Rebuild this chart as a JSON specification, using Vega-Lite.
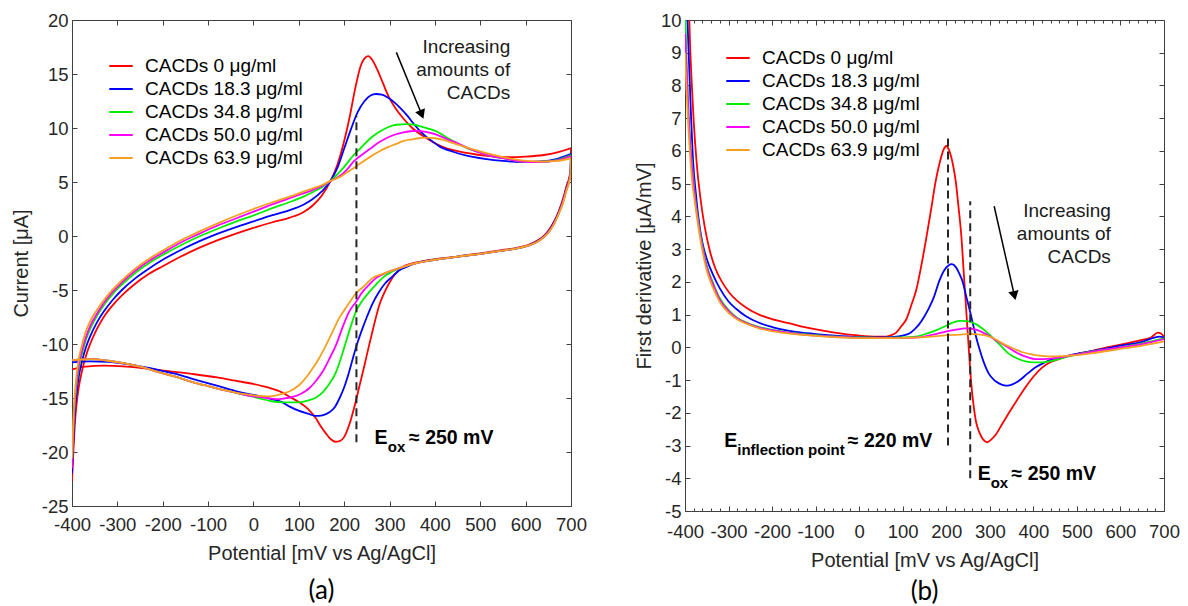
{
"$schema": "https://vega.github.io/schema/vega-lite/v6.json",
"background": "white",
"padding": {"left": 10, "top": 10, "right": 2, "bottom": 1},
"spacing": 46,
"config": {
  "font": "Liberation Sans",
  "view": {"stroke": "#404040", "strokeWidth": 1},
  "axis": {"domain": false, "grid": false, "labelOverlap": false, "labelFlush": false, "tickColor": "#404040", "tickSize": -5, "labelColor": "#262626", "labelFontSize": 18.5, "labelPadding": 9, "titleFontSize": 20, "titleFontWeight": "normal", "titleColor": "#262626", "titlePadding": 10},
  "legend": {"labelFontSize": 19, "labelColor": "#000", "labelLimit": 400, "symbolType": "stroke", "symbolStrokeWidth": 2, "symbolSize": 550, "rowPadding": 0, "labelOffset": 11, "padding": 0},
  "text": {"font": "Liberation Sans"}
},
"datasets": {
"cv": [
{"c":"0","b":"f","E":-400,"I":-22.7},{"c":"0","b":"f","E":-397,"I":-20},{"c":"0","b":"f","E":-394,"I":-17.6},{"c":"0","b":"f","E":-390,"I":-15.6},{"c":"0","b":"f","E":-385,"I":-14},{"c":"0","b":"f","E":-378,"I":-12.5},{"c":"0","b":"f","E":-370,"I":-11.2},{"c":"0","b":"f","E":-360,"I":-10},{"c":"0","b":"f","E":-345,"I":-8.6},{"c":"0","b":"f","E":-330,"I":-7.5},{"c":"0","b":"f","E":-310,"I":-6.4},{"c":"0","b":"f","E":-290,"I":-5.5},{"c":"0","b":"f","E":-260,"I":-4.4},{"c":"0","b":"f","E":-230,"I":-3.5},{"c":"0","b":"f","E":-200,"I":-2.8},{"c":"0","b":"f","E":-160,"I":-1.9},{"c":"0","b":"f","E":-120,"I":-1.1},{"c":"0","b":"f","E":-80,"I":-0.4},{"c":"0","b":"f","E":-40,"I":0.2},{"c":"0","b":"f","E":0,"I":0.75},{"c":"0","b":"f","E":40,"I":1.25},{"c":"0","b":"f","E":80,"I":1.7},{"c":"0","b":"f","E":110,"I":2.2},{"c":"0","b":"f","E":130,"I":2.8},{"c":"0","b":"f","E":150,"I":3.7},{"c":"0","b":"f","E":170,"I":5.1},{"c":"0","b":"f","E":185,"I":6.6},{"c":"0","b":"f","E":200,"I":8.8},{"c":"0","b":"f","E":212,"I":11},{"c":"0","b":"f","E":224,"I":13.6},{"c":"0","b":"f","E":236,"I":15.7},{"c":"0","b":"f","E":246,"I":16.5},{"c":"0","b":"f","E":253,"I":16.65},{"c":"0","b":"f","E":262,"I":16.3},{"c":"0","b":"f","E":273,"I":15.4},{"c":"0","b":"f","E":285,"I":14.2},{"c":"0","b":"f","E":297,"I":13},{"c":"0","b":"f","E":312,"I":11.9},{"c":"0","b":"f","E":330,"I":10.9},{"c":"0","b":"f","E":350,"I":10},{"c":"0","b":"f","E":380,"I":9.1},{"c":"0","b":"f","E":420,"I":8.2},{"c":"0","b":"f","E":470,"I":7.7},{"c":"0","b":"f","E":520,"I":7.4},{"c":"0","b":"f","E":560,"I":7.3},{"c":"0","b":"f","E":600,"I":7.35},{"c":"0","b":"f","E":640,"I":7.5},{"c":"0","b":"f","E":670,"I":7.75},{"c":"0","b":"f","E":700,"I":8.15},
{"c":"0","b":"r","E":700,"I":8.15},{"c":"0","b":"r","E":699,"I":6.2},{"c":"0","b":"r","E":696,"I":5.4},{"c":"0","b":"r","E":690,"I":4.6},{"c":"0","b":"r","E":682,"I":3.4},{"c":"0","b":"r","E":672,"I":2.2},{"c":"0","b":"r","E":662,"I":1.3},{"c":"0","b":"r","E":652,"I":0.6},{"c":"0","b":"r","E":640,"I":0},{"c":"0","b":"r","E":625,"I":-0.45},{"c":"0","b":"r","E":605,"I":-0.85},{"c":"0","b":"r","E":580,"I":-1.1},{"c":"0","b":"r","E":540,"I":-1.35},{"c":"0","b":"r","E":500,"I":-1.6},{"c":"0","b":"r","E":450,"I":-1.9},{"c":"0","b":"r","E":400,"I":-2.15},{"c":"0","b":"r","E":360,"I":-2.45},{"c":"0","b":"r","E":330,"I":-2.85},{"c":"0","b":"r","E":315,"I":-3.4},{"c":"0","b":"r","E":300,"I":-4.3},{"c":"0","b":"r","E":288,"I":-5.3},{"c":"0","b":"r","E":277,"I":-6.45},{"c":"0","b":"r","E":266,"I":-8.2},{"c":"0","b":"r","E":255,"I":-10.1},{"c":"0","b":"r","E":244,"I":-12.1},{"c":"0","b":"r","E":233,"I":-14},{"c":"0","b":"r","E":222,"I":-15.9},{"c":"0","b":"r","E":211,"I":-17.5},{"c":"0","b":"r","E":200,"I":-18.6},{"c":"0","b":"r","E":190,"I":-19},{"c":"0","b":"r","E":180,"I":-19.05},{"c":"0","b":"r","E":170,"I":-18.8},{"c":"0","b":"r","E":160,"I":-18.3},{"c":"0","b":"r","E":148,"I":-17.6},{"c":"0","b":"r","E":138,"I":-16.9},{"c":"0","b":"r","E":120,"I":-16},{"c":"0","b":"r","E":101,"I":-15.4},{"c":"0","b":"r","E":80,"I":-14.9},{"c":"0","b":"r","E":64,"I":-14.5},{"c":"0","b":"r","E":30,"I":-14},{"c":"0","b":"r","E":0,"I":-13.7},{"c":"0","b":"r","E":-40,"I":-13.4},{"c":"0","b":"r","E":-80,"I":-13.1},{"c":"0","b":"r","E":-130,"I":-12.8},{"c":"0","b":"r","E":-180,"I":-12.55},{"c":"0","b":"r","E":-230,"I":-12.3},{"c":"0","b":"r","E":-280,"I":-12.1},{"c":"0","b":"r","E":-330,"I":-12},{"c":"0","b":"r","E":-370,"I":-12.1},{"c":"0","b":"r","E":-400,"I":-12.35},
{"c":"18.3","b":"f","E":-400,"I":-22},{"c":"18.3","b":"f","E":-397,"I":-19},{"c":"18.3","b":"f","E":-394,"I":-16.5},{"c":"18.3","b":"f","E":-390,"I":-14.6},{"c":"18.3","b":"f","E":-385,"I":-13},{"c":"18.3","b":"f","E":-378,"I":-11.6},{"c":"18.3","b":"f","E":-370,"I":-10.4},{"c":"18.3","b":"f","E":-360,"I":-9.3},{"c":"18.3","b":"f","E":-345,"I":-8},{"c":"18.3","b":"f","E":-330,"I":-7},{"c":"18.3","b":"f","E":-310,"I":-5.9},{"c":"18.3","b":"f","E":-290,"I":-5},{"c":"18.3","b":"f","E":-260,"I":-3.9},{"c":"18.3","b":"f","E":-230,"I":-3},{"c":"18.3","b":"f","E":-200,"I":-2.2},{"c":"18.3","b":"f","E":-160,"I":-1.3},{"c":"18.3","b":"f","E":-120,"I":-0.5},{"c":"18.3","b":"f","E":-80,"I":0.2},{"c":"18.3","b":"f","E":-40,"I":0.8},{"c":"18.3","b":"f","E":0,"I":1.35},{"c":"18.3","b":"f","E":40,"I":1.9},{"c":"18.3","b":"f","E":80,"I":2.4},{"c":"18.3","b":"f","E":110,"I":2.9},{"c":"18.3","b":"f","E":130,"I":3.4},{"c":"18.3","b":"f","E":150,"I":4.1},{"c":"18.3","b":"f","E":170,"I":5.1},{"c":"18.3","b":"f","E":185,"I":6.3},{"c":"18.3","b":"f","E":200,"I":8.1},{"c":"18.3","b":"f","E":215,"I":9.9},{"c":"18.3","b":"f","E":230,"I":11.5},{"c":"18.3","b":"f","E":245,"I":12.5},{"c":"18.3","b":"f","E":258,"I":13},{"c":"18.3","b":"f","E":270,"I":13.15},{"c":"18.3","b":"f","E":283,"I":13.1},{"c":"18.3","b":"f","E":297,"I":12.8},{"c":"18.3","b":"f","E":310,"I":12.4},{"c":"18.3","b":"f","E":325,"I":11.8},{"c":"18.3","b":"f","E":340,"I":11.1},{"c":"18.3","b":"f","E":355,"I":10.3},{"c":"18.3","b":"f","E":370,"I":9.6},{"c":"18.3","b":"f","E":390,"I":8.9},{"c":"18.3","b":"f","E":410,"I":8.3},{"c":"18.3","b":"f","E":440,"I":7.8},{"c":"18.3","b":"f","E":470,"I":7.45},{"c":"18.3","b":"f","E":510,"I":7.15},{"c":"18.3","b":"f","E":550,"I":6.95},{"c":"18.3","b":"f","E":590,"I":6.85},{"c":"18.3","b":"f","E":630,"I":6.9},{"c":"18.3","b":"f","E":670,"I":7.15},{"c":"18.3","b":"f","E":700,"I":7.6},
{"c":"18.3","b":"r","E":700,"I":7.6},{"c":"18.3","b":"r","E":699,"I":6},{"c":"18.3","b":"r","E":696,"I":5.2},{"c":"18.3","b":"r","E":690,"I":4.4},{"c":"18.3","b":"r","E":682,"I":3.2},{"c":"18.3","b":"r","E":672,"I":2.1},{"c":"18.3","b":"r","E":662,"I":1.2},{"c":"18.3","b":"r","E":652,"I":0.5},{"c":"18.3","b":"r","E":640,"I":-0.05},{"c":"18.3","b":"r","E":625,"I":-0.5},{"c":"18.3","b":"r","E":605,"I":-0.9},{"c":"18.3","b":"r","E":580,"I":-1.15},{"c":"18.3","b":"r","E":540,"I":-1.4},{"c":"18.3","b":"r","E":500,"I":-1.65},{"c":"18.3","b":"r","E":450,"I":-1.9},{"c":"18.3","b":"r","E":400,"I":-2.2},{"c":"18.3","b":"r","E":360,"I":-2.5},{"c":"18.3","b":"r","E":335,"I":-2.9},{"c":"18.3","b":"r","E":321,"I":-3.2},{"c":"18.3","b":"r","E":305,"I":-3.8},{"c":"18.3","b":"r","E":290,"I":-4.4},{"c":"18.3","b":"r","E":275,"I":-5.3},{"c":"18.3","b":"r","E":262,"I":-6.3},{"c":"18.3","b":"r","E":250,"I":-7.5},{"c":"18.3","b":"r","E":240,"I":-8.6},{"c":"18.3","b":"r","E":230,"I":-9.8},{"c":"18.3","b":"r","E":220,"I":-11.2},{"c":"18.3","b":"r","E":210,"I":-12.7},{"c":"18.3","b":"r","E":200,"I":-14},{"c":"18.3","b":"r","E":190,"I":-15},{"c":"18.3","b":"r","E":180,"I":-15.8},{"c":"18.3","b":"r","E":168,"I":-16.3},{"c":"18.3","b":"r","E":152,"I":-16.6},{"c":"18.3","b":"r","E":136,"I":-16.65},{"c":"18.3","b":"r","E":120,"I":-16.45},{"c":"18.3","b":"r","E":101,"I":-16.2},{"c":"18.3","b":"r","E":80,"I":-15.8},{"c":"18.3","b":"r","E":64,"I":-15.4},{"c":"18.3","b":"r","E":40,"I":-15.1},{"c":"18.3","b":"r","E":11,"I":-14.8},{"c":"18.3","b":"r","E":-26,"I":-14.5},{"c":"18.3","b":"r","E":-60,"I":-14.1},{"c":"18.3","b":"r","E":-99,"I":-13.65},{"c":"18.3","b":"r","E":-140,"I":-13.15},{"c":"18.3","b":"r","E":-173,"I":-12.75},{"c":"18.3","b":"r","E":-210,"I":-12.4},{"c":"18.3","b":"r","E":-246,"I":-12.1},{"c":"18.3","b":"r","E":-280,"I":-11.85},{"c":"18.3","b":"r","E":-319,"I":-11.65},{"c":"18.3","b":"r","E":-360,"I":-11.6},{"c":"18.3","b":"r","E":-400,"I":-11.7},
{"c":"34.8","b":"f","E":-400,"I":-21.2},{"c":"34.8","b":"f","E":-397,"I":-18},{"c":"34.8","b":"f","E":-394,"I":-15.6},{"c":"34.8","b":"f","E":-390,"I":-13.8},{"c":"34.8","b":"f","E":-385,"I":-12.2},{"c":"34.8","b":"f","E":-378,"I":-10.9},{"c":"34.8","b":"f","E":-370,"I":-9.7},{"c":"34.8","b":"f","E":-360,"I":-8.6},{"c":"34.8","b":"f","E":-345,"I":-7.4},{"c":"34.8","b":"f","E":-330,"I":-6.4},{"c":"34.8","b":"f","E":-310,"I":-5.35},{"c":"34.8","b":"f","E":-290,"I":-4.5},{"c":"34.8","b":"f","E":-260,"I":-3.4},{"c":"34.8","b":"f","E":-230,"I":-2.5},{"c":"34.8","b":"f","E":-200,"I":-1.75},{"c":"34.8","b":"f","E":-160,"I":-0.85},{"c":"34.8","b":"f","E":-120,"I":-0.05},{"c":"34.8","b":"f","E":-80,"I":0.65},{"c":"34.8","b":"f","E":-40,"I":1.3},{"c":"34.8","b":"f","E":0,"I":1.9},{"c":"34.8","b":"f","E":40,"I":2.55},{"c":"34.8","b":"f","E":80,"I":3.15},{"c":"34.8","b":"f","E":110,"I":3.65},{"c":"34.8","b":"f","E":130,"I":4.05},{"c":"34.8","b":"f","E":150,"I":4.5},{"c":"34.8","b":"f","E":170,"I":5.1},{"c":"34.8","b":"f","E":185,"I":5.7},{"c":"34.8","b":"f","E":200,"I":6.4},{"c":"34.8","b":"f","E":221,"I":7.5},{"c":"34.8","b":"f","E":240,"I":8.3},{"c":"34.8","b":"f","E":258,"I":9.05},{"c":"34.8","b":"f","E":276,"I":9.6},{"c":"34.8","b":"f","E":295,"I":10.05},{"c":"34.8","b":"f","E":315,"I":10.3},{"c":"34.8","b":"f","E":338,"I":10.35},{"c":"34.8","b":"f","E":355,"I":10.3},{"c":"34.8","b":"f","E":368,"I":10.15},{"c":"34.8","b":"f","E":385,"I":9.95},{"c":"34.8","b":"f","E":405,"I":9.65},{"c":"34.8","b":"f","E":425,"I":9.15},{"c":"34.8","b":"f","E":449,"I":8.6},{"c":"34.8","b":"f","E":470,"I":8.15},{"c":"34.8","b":"f","E":493,"I":7.8},{"c":"34.8","b":"f","E":520,"I":7.45},{"c":"34.8","b":"f","E":550,"I":7.2},{"c":"34.8","b":"f","E":590,"I":6.9},{"c":"34.8","b":"f","E":630,"I":6.85},{"c":"34.8","b":"f","E":670,"I":7.05},{"c":"34.8","b":"f","E":700,"I":7.5},
{"c":"34.8","b":"r","E":700,"I":7.5},{"c":"34.8","b":"r","E":699,"I":5.9},{"c":"34.8","b":"r","E":696,"I":5.1},{"c":"34.8","b":"r","E":690,"I":4.3},{"c":"34.8","b":"r","E":682,"I":3.1},{"c":"34.8","b":"r","E":672,"I":2},{"c":"34.8","b":"r","E":662,"I":1.1},{"c":"34.8","b":"r","E":652,"I":0.45},{"c":"34.8","b":"r","E":640,"I":-0.1},{"c":"34.8","b":"r","E":625,"I":-0.55},{"c":"34.8","b":"r","E":605,"I":-0.9},{"c":"34.8","b":"r","E":580,"I":-1.15},{"c":"34.8","b":"r","E":540,"I":-1.4},{"c":"34.8","b":"r","E":500,"I":-1.65},{"c":"34.8","b":"r","E":450,"I":-1.9},{"c":"34.8","b":"r","E":400,"I":-2.2},{"c":"34.8","b":"r","E":360,"I":-2.5},{"c":"34.8","b":"r","E":328,"I":-2.9},{"c":"34.8","b":"r","E":305,"I":-3.3},{"c":"34.8","b":"r","E":284,"I":-3.9},{"c":"34.8","b":"r","E":270,"I":-4.5},{"c":"34.8","b":"r","E":255,"I":-5.2},{"c":"34.8","b":"r","E":240,"I":-6},{"c":"34.8","b":"r","E":226,"I":-7},{"c":"34.8","b":"r","E":215,"I":-8.3},{"c":"34.8","b":"r","E":204,"I":-9.8},{"c":"34.8","b":"r","E":193,"I":-11.3},{"c":"34.8","b":"r","E":182,"I":-12.6},{"c":"34.8","b":"r","E":167,"I":-13.7},{"c":"34.8","b":"r","E":152,"I":-14.5},{"c":"34.8","b":"r","E":138,"I":-14.95},{"c":"34.8","b":"r","E":123,"I":-15.2},{"c":"34.8","b":"r","E":108,"I":-15.35},{"c":"34.8","b":"r","E":94,"I":-15.4},{"c":"34.8","b":"r","E":80,"I":-15.4},{"c":"34.8","b":"r","E":64,"I":-15.4},{"c":"34.8","b":"r","E":40,"I":-15.3},{"c":"34.8","b":"r","E":11,"I":-15},{"c":"34.8","b":"r","E":-20,"I":-14.7},{"c":"34.8","b":"r","E":-62,"I":-14.3},{"c":"34.8","b":"r","E":-100,"I":-13.9},{"c":"34.8","b":"r","E":-136,"I":-13.5},{"c":"34.8","b":"r","E":-170,"I":-13.05},{"c":"34.8","b":"r","E":-209,"I":-12.6},{"c":"34.8","b":"r","E":-245,"I":-12.15},{"c":"34.8","b":"r","E":-283,"I":-11.8},{"c":"34.8","b":"r","E":-320,"I":-11.55},{"c":"34.8","b":"r","E":-356,"I":-11.4},{"c":"34.8","b":"r","E":-400,"I":-11.5},
{"c":"50.0","b":"f","E":-400,"I":-21.5},{"c":"50.0","b":"f","E":-397,"I":-17.6},{"c":"50.0","b":"f","E":-394,"I":-15.3},{"c":"50.0","b":"f","E":-390,"I":-13.5},{"c":"50.0","b":"f","E":-385,"I":-11.9},{"c":"50.0","b":"f","E":-378,"I":-10.6},{"c":"50.0","b":"f","E":-370,"I":-9.45},{"c":"50.0","b":"f","E":-360,"I":-8.35},{"c":"50.0","b":"f","E":-345,"I":-7.2},{"c":"50.0","b":"f","E":-330,"I":-6.2},{"c":"50.0","b":"f","E":-310,"I":-5.15},{"c":"50.0","b":"f","E":-290,"I":-4.3},{"c":"50.0","b":"f","E":-260,"I":-3.2},{"c":"50.0","b":"f","E":-230,"I":-2.3},{"c":"50.0","b":"f","E":-200,"I":-1.55},{"c":"50.0","b":"f","E":-160,"I":-0.6},{"c":"50.0","b":"f","E":-120,"I":0.2},{"c":"50.0","b":"f","E":-80,"I":0.95},{"c":"50.0","b":"f","E":-40,"I":1.6},{"c":"50.0","b":"f","E":0,"I":2.25},{"c":"50.0","b":"f","E":40,"I":2.9},{"c":"50.0","b":"f","E":80,"I":3.5},{"c":"50.0","b":"f","E":110,"I":3.95},{"c":"50.0","b":"f","E":130,"I":4.25},{"c":"50.0","b":"f","E":150,"I":4.6},{"c":"50.0","b":"f","E":170,"I":5.1},{"c":"50.0","b":"f","E":190,"I":5.55},{"c":"50.0","b":"f","E":205,"I":6.1},{"c":"50.0","b":"f","E":221,"I":6.9},{"c":"50.0","b":"f","E":240,"I":7.55},{"c":"50.0","b":"f","E":258,"I":8.1},{"c":"50.0","b":"f","E":276,"I":8.65},{"c":"50.0","b":"f","E":295,"I":9.1},{"c":"50.0","b":"f","E":313,"I":9.4},{"c":"50.0","b":"f","E":331,"I":9.6},{"c":"50.0","b":"f","E":345,"I":9.7},{"c":"50.0","b":"f","E":361,"I":9.74},{"c":"50.0","b":"f","E":380,"I":9.65},{"c":"50.0","b":"f","E":405,"I":9.37},{"c":"50.0","b":"f","E":425,"I":9},{"c":"50.0","b":"f","E":449,"I":8.6},{"c":"50.0","b":"f","E":470,"I":8.2},{"c":"50.0","b":"f","E":493,"I":7.8},{"c":"50.0","b":"f","E":520,"I":7.45},{"c":"50.0","b":"f","E":550,"I":7.2},{"c":"50.0","b":"f","E":590,"I":6.9},{"c":"50.0","b":"f","E":630,"I":6.85},{"c":"50.0","b":"f","E":670,"I":7},{"c":"50.0","b":"f","E":700,"I":7.4},
{"c":"50.0","b":"r","E":700,"I":7.4},{"c":"50.0","b":"r","E":699,"I":5.9},{"c":"50.0","b":"r","E":696,"I":5.1},{"c":"50.0","b":"r","E":690,"I":4.3},{"c":"50.0","b":"r","E":682,"I":3.1},{"c":"50.0","b":"r","E":672,"I":2},{"c":"50.0","b":"r","E":662,"I":1.1},{"c":"50.0","b":"r","E":652,"I":0.45},{"c":"50.0","b":"r","E":640,"I":-0.1},{"c":"50.0","b":"r","E":625,"I":-0.55},{"c":"50.0","b":"r","E":605,"I":-0.9},{"c":"50.0","b":"r","E":580,"I":-1.15},{"c":"50.0","b":"r","E":540,"I":-1.4},{"c":"50.0","b":"r","E":500,"I":-1.65},{"c":"50.0","b":"r","E":450,"I":-1.9},{"c":"50.0","b":"r","E":400,"I":-2.2},{"c":"50.0","b":"r","E":360,"I":-2.5},{"c":"50.0","b":"r","E":330,"I":-2.85},{"c":"50.0","b":"r","E":305,"I":-3.2},{"c":"50.0","b":"r","E":285,"I":-3.55},{"c":"50.0","b":"r","E":270,"I":-3.9},{"c":"50.0","b":"r","E":255,"I":-4.5},{"c":"50.0","b":"r","E":240,"I":-5.2},{"c":"50.0","b":"r","E":226,"I":-6.1},{"c":"50.0","b":"r","E":211,"I":-7},{"c":"50.0","b":"r","E":196,"I":-8.5},{"c":"50.0","b":"r","E":182,"I":-10.1},{"c":"50.0","b":"r","E":167,"I":-11.4},{"c":"50.0","b":"r","E":152,"I":-12.6},{"c":"50.0","b":"r","E":138,"I":-13.4},{"c":"50.0","b":"r","E":123,"I":-14.1},{"c":"50.0","b":"r","E":105,"I":-14.6},{"c":"50.0","b":"r","E":86,"I":-14.9},{"c":"50.0","b":"r","E":66,"I":-15.05},{"c":"50.0","b":"r","E":49,"I":-15.1},{"c":"50.0","b":"r","E":30,"I":-15},{"c":"50.0","b":"r","E":13,"I":-14.9},{"c":"50.0","b":"r","E":-9,"I":-14.8},{"c":"50.0","b":"r","E":-40,"I":-14.5},{"c":"50.0","b":"r","E":-62,"I":-14.3},{"c":"50.0","b":"r","E":-100,"I":-13.9},{"c":"50.0","b":"r","E":-136,"I":-13.5},{"c":"50.0","b":"r","E":-170,"I":-13.05},{"c":"50.0","b":"r","E":-209,"I":-12.6},{"c":"50.0","b":"r","E":-245,"I":-12.15},{"c":"50.0","b":"r","E":-283,"I":-11.8},{"c":"50.0","b":"r","E":-320,"I":-11.55},{"c":"50.0","b":"r","E":-356,"I":-11.4},{"c":"50.0","b":"r","E":-400,"I":-11.5},
{"c":"63.9","b":"f","E":-400,"I":-20.6},{"c":"63.9","b":"f","E":-397,"I":-17},{"c":"63.9","b":"f","E":-394,"I":-14.8},{"c":"63.9","b":"f","E":-390,"I":-12.9},{"c":"63.9","b":"f","E":-385,"I":-11.4},{"c":"63.9","b":"f","E":-378,"I":-10.1},{"c":"63.9","b":"f","E":-370,"I":-8.9},{"c":"63.9","b":"f","E":-360,"I":-7.9},{"c":"63.9","b":"f","E":-345,"I":-6.85},{"c":"63.9","b":"f","E":-330,"I":-5.95},{"c":"63.9","b":"f","E":-310,"I":-4.95},{"c":"63.9","b":"f","E":-290,"I":-4.1},{"c":"63.9","b":"f","E":-260,"I":-3},{"c":"63.9","b":"f","E":-230,"I":-2.1},{"c":"63.9","b":"f","E":-200,"I":-1.35},{"c":"63.9","b":"f","E":-160,"I":-0.4},{"c":"63.9","b":"f","E":-120,"I":0.4},{"c":"63.9","b":"f","E":-80,"I":1.15},{"c":"63.9","b":"f","E":-40,"I":1.85},{"c":"63.9","b":"f","E":0,"I":2.5},{"c":"63.9","b":"f","E":40,"I":3.1},{"c":"63.9","b":"f","E":80,"I":3.65},{"c":"63.9","b":"f","E":110,"I":4.1},{"c":"63.9","b":"f","E":130,"I":4.4},{"c":"63.9","b":"f","E":150,"I":4.7},{"c":"63.9","b":"f","E":170,"I":5.1},{"c":"63.9","b":"f","E":190,"I":5.45},{"c":"63.9","b":"f","E":205,"I":5.85},{"c":"63.9","b":"f","E":221,"I":6.3},{"c":"63.9","b":"f","E":240,"I":6.85},{"c":"63.9","b":"f","E":258,"I":7.35},{"c":"63.9","b":"f","E":276,"I":7.8},{"c":"63.9","b":"f","E":295,"I":8.2},{"c":"63.9","b":"f","E":313,"I":8.5},{"c":"63.9","b":"f","E":331,"I":8.8},{"c":"63.9","b":"f","E":350,"I":8.95},{"c":"63.9","b":"f","E":365,"I":9.05},{"c":"63.9","b":"f","E":379,"I":9.1},{"c":"63.9","b":"f","E":400,"I":9.05},{"c":"63.9","b":"f","E":419,"I":8.9},{"c":"63.9","b":"f","E":440,"I":8.6},{"c":"63.9","b":"f","E":463,"I":8.3},{"c":"63.9","b":"f","E":490,"I":7.95},{"c":"63.9","b":"f","E":520,"I":7.6},{"c":"63.9","b":"f","E":550,"I":7.3},{"c":"63.9","b":"f","E":590,"I":7},{"c":"63.9","b":"f","E":630,"I":6.9},{"c":"63.9","b":"f","E":670,"I":6.95},{"c":"63.9","b":"f","E":700,"I":7.2},
{"c":"63.9","b":"r","E":700,"I":7.2},{"c":"63.9","b":"r","E":699,"I":5.8},{"c":"63.9","b":"r","E":696,"I":5},{"c":"63.9","b":"r","E":690,"I":4.2},{"c":"63.9","b":"r","E":682,"I":3},{"c":"63.9","b":"r","E":672,"I":1.95},{"c":"63.9","b":"r","E":662,"I":1.05},{"c":"63.9","b":"r","E":652,"I":0.4},{"c":"63.9","b":"r","E":640,"I":-0.1},{"c":"63.9","b":"r","E":625,"I":-0.55},{"c":"63.9","b":"r","E":605,"I":-0.9},{"c":"63.9","b":"r","E":580,"I":-1.15},{"c":"63.9","b":"r","E":540,"I":-1.4},{"c":"63.9","b":"r","E":500,"I":-1.65},{"c":"63.9","b":"r","E":450,"I":-1.9},{"c":"63.9","b":"r","E":400,"I":-2.2},{"c":"63.9","b":"r","E":360,"I":-2.5},{"c":"63.9","b":"r","E":330,"I":-2.85},{"c":"63.9","b":"r","E":305,"I":-3.2},{"c":"63.9","b":"r","E":285,"I":-3.5},{"c":"63.9","b":"r","E":262,"I":-3.9},{"c":"63.9","b":"r","E":245,"I":-4.6},{"c":"63.9","b":"r","E":226,"I":-5.3},{"c":"63.9","b":"r","E":208,"I":-6.4},{"c":"63.9","b":"r","E":189,"I":-7.6},{"c":"63.9","b":"r","E":175,"I":-8.8},{"c":"63.9","b":"r","E":160,"I":-10.1},{"c":"63.9","b":"r","E":145,"I":-11.3},{"c":"63.9","b":"r","E":130,"I":-12.3},{"c":"63.9","b":"r","E":116,"I":-13.1},{"c":"63.9","b":"r","E":101,"I":-13.8},{"c":"63.9","b":"r","E":83,"I":-14.3},{"c":"63.9","b":"r","E":64,"I":-14.6},{"c":"63.9","b":"r","E":45,"I":-14.8},{"c":"63.9","b":"r","E":28,"I":-14.85},{"c":"63.9","b":"r","E":10,"I":-14.8},{"c":"63.9","b":"r","E":-9,"I":-14.7},{"c":"63.9","b":"r","E":-40,"I":-14.5},{"c":"63.9","b":"r","E":-62,"I":-14.3},{"c":"63.9","b":"r","E":-100,"I":-13.9},{"c":"63.9","b":"r","E":-136,"I":-13.5},{"c":"63.9","b":"r","E":-170,"I":-13.05},{"c":"63.9","b":"r","E":-209,"I":-12.6},{"c":"63.9","b":"r","E":-245,"I":-12.15},{"c":"63.9","b":"r","E":-283,"I":-11.8},{"c":"63.9","b":"r","E":-320,"I":-11.55},{"c":"63.9","b":"r","E":-356,"I":-11.4},{"c":"63.9","b":"r","E":-400,"I":-11.5}
],
"deriv": [
{"c":"0","E":-393,"D":11.5},{"c":"0","E":-389,"D":9.5},{"c":"0","E":-385,"D":8.2},{"c":"0","E":-380,"D":6.9},{"c":"0","E":-373,"D":5.6},{"c":"0","E":-365,"D":4.6},{"c":"0","E":-355,"D":3.7},{"c":"0","E":-343,"D":2.95},{"c":"0","E":-330,"D":2.4},{"c":"0","E":-315,"D":2},{"c":"0","E":-300,"D":1.7},{"c":"0","E":-280,"D":1.42},{"c":"0","E":-260,"D":1.22},{"c":"0","E":-230,"D":1},{"c":"0","E":-200,"D":0.86},{"c":"0","E":-160,"D":0.73},{"c":"0","E":-120,"D":0.6},{"c":"0","E":-80,"D":0.5},{"c":"0","E":-40,"D":0.42},{"c":"0","E":0,"D":0.36},{"c":"0","E":40,"D":0.33},{"c":"0","E":62,"D":0.33},{"c":"0","E":75,"D":0.38},{"c":"0","E":85,"D":0.45},{"c":"0","E":97,"D":0.65},{"c":"0","E":108,"D":0.85},{"c":"0","E":120,"D":1.3},{"c":"0","E":131,"D":1.75},{"c":"0","E":142,"D":2.45},{"c":"0","E":153,"D":3.25},{"c":"0","E":165,"D":4.2},{"c":"0","E":176,"D":5.1},{"c":"0","E":186,"D":5.7},{"c":"0","E":194,"D":6.05},{"c":"0","E":200,"D":6.15},{"c":"0","E":207,"D":6},{"c":"0","E":215,"D":5.6},{"c":"0","E":222,"D":5.05},{"c":"0","E":228,"D":4.3},{"c":"0","E":234,"D":3.5},{"c":"0","E":241,"D":2.1},{"c":"0","E":245,"D":1.3},{"c":"0","E":249,"D":0.5},{"c":"0","E":253,"D":-0.3},{"c":"0","E":257,"D":-1.05},{"c":"0","E":262,"D":-1.7},{"c":"0","E":268,"D":-2.25},{"c":"0","E":276,"D":-2.6},{"c":"0","E":285,"D":-2.82},{"c":"0","E":294,"D":-2.9},{"c":"0","E":303,"D":-2.82},{"c":"0","E":313,"D":-2.68},{"c":"0","E":328,"D":-2.35},{"c":"0","E":344,"D":-2},{"c":"0","E":363,"D":-1.6},{"c":"0","E":382,"D":-1.22},{"c":"0","E":400,"D":-0.9},{"c":"0","E":420,"D":-0.62},{"c":"0","E":440,"D":-0.45},{"c":"0","E":460,"D":-0.35},{"c":"0","E":480,"D":-0.27},{"c":"0","E":500,"D":-0.2},{"c":"0","E":530,"D":-0.12},{"c":"0","E":560,"D":-0.03},{"c":"0","E":600,"D":0.08},{"c":"0","E":640,"D":0.2},{"c":"0","E":670,"D":0.3},{"c":"0","E":686,"D":0.45},{"c":"0","E":693,"D":0.42},{"c":"0","E":700,"D":0.33},
{"c":"18.3","E":-397,"D":11},{"c":"18.3","E":-393,"D":9.5},{"c":"18.3","E":-388,"D":7.7},{"c":"18.3","E":-381,"D":5.6},{"c":"18.3","E":-375,"D":4.7},{"c":"18.3","E":-370,"D":4.05},{"c":"18.3","E":-360,"D":3.2},{"c":"18.3","E":-350,"D":2.7},{"c":"18.3","E":-335,"D":2.2},{"c":"18.3","E":-320,"D":1.8},{"c":"18.3","E":-300,"D":1.4},{"c":"18.3","E":-282,"D":1.17},{"c":"18.3","E":-260,"D":0.95},{"c":"18.3","E":-230,"D":0.75},{"c":"18.3","E":-200,"D":0.62},{"c":"18.3","E":-160,"D":0.5},{"c":"18.3","E":-120,"D":0.43},{"c":"18.3","E":-80,"D":0.38},{"c":"18.3","E":-40,"D":0.34},{"c":"18.3","E":0,"D":0.31},{"c":"18.3","E":40,"D":0.3},{"c":"18.3","E":80,"D":0.32},{"c":"18.3","E":100,"D":0.36},{"c":"18.3","E":115,"D":0.42},{"c":"18.3","E":127,"D":0.55},{"c":"18.3","E":138,"D":0.71},{"c":"18.3","E":150,"D":0.95},{"c":"18.3","E":161,"D":1.22},{"c":"18.3","E":172,"D":1.55},{"c":"18.3","E":184,"D":2.03},{"c":"18.3","E":195,"D":2.35},{"c":"18.3","E":205,"D":2.5},{"c":"18.3","E":213,"D":2.54},{"c":"18.3","E":222,"D":2.45},{"c":"18.3","E":230,"D":2.25},{"c":"18.3","E":237,"D":2.03},{"c":"18.3","E":246,"D":1.55},{"c":"18.3","E":256,"D":1.02},{"c":"18.3","E":265,"D":0.5},{"c":"18.3","E":275,"D":0},{"c":"18.3","E":286,"D":-0.45},{"c":"18.3","E":298,"D":-0.81},{"c":"18.3","E":310,"D":-1},{"c":"18.3","E":321,"D":-1.1},{"c":"18.3","E":333,"D":-1.16},{"c":"18.3","E":340,"D":-1.17},{"c":"18.3","E":352,"D":-1.13},{"c":"18.3","E":367,"D":-1.02},{"c":"18.3","E":385,"D":-0.82},{"c":"18.3","E":405,"D":-0.61},{"c":"18.3","E":425,"D":-0.47},{"c":"18.3","E":443,"D":-0.36},{"c":"18.3","E":462,"D":-0.3},{"c":"18.3","E":481,"D":-0.25},{"c":"18.3","E":500,"D":-0.2},{"c":"18.3","E":550,"D":-0.08},{"c":"18.3","E":600,"D":0.05},{"c":"18.3","E":650,"D":0.17},{"c":"18.3","E":690,"D":0.33},{"c":"18.3","E":700,"D":0.3},
{"c":"34.8","E":-400,"D":10.5},{"c":"34.8","E":-396,"D":8.6},{"c":"34.8","E":-392,"D":7.2},{"c":"34.8","E":-388,"D":6.3},{"c":"34.8","E":-382,"D":5.3},{"c":"34.8","E":-377,"D":4.6},{"c":"34.8","E":-366,"D":3.55},{"c":"34.8","E":-350,"D":2.5},{"c":"34.8","E":-335,"D":1.95},{"c":"34.8","E":-320,"D":1.5},{"c":"34.8","E":-297,"D":1.1},{"c":"34.8","E":-280,"D":0.9},{"c":"34.8","E":-259,"D":0.76},{"c":"34.8","E":-230,"D":0.62},{"c":"34.8","E":-205,"D":0.55},{"c":"34.8","E":-160,"D":0.45},{"c":"34.8","E":-129,"D":0.4},{"c":"34.8","E":-80,"D":0.35},{"c":"34.8","E":-40,"D":0.32},{"c":"34.8","E":0,"D":0.3},{"c":"34.8","E":50,"D":0.29},{"c":"34.8","E":100,"D":0.3},{"c":"34.8","E":130,"D":0.33},{"c":"34.8","E":155,"D":0.42},{"c":"34.8","E":176,"D":0.52},{"c":"34.8","E":195,"D":0.63},{"c":"34.8","E":212,"D":0.74},{"c":"34.8","E":230,"D":0.81},{"c":"34.8","E":248,"D":0.8},{"c":"34.8","E":268,"D":0.71},{"c":"34.8","E":285,"D":0.55},{"c":"34.8","E":306,"D":0.3},{"c":"34.8","E":325,"D":0.05},{"c":"34.8","E":344,"D":-0.2},{"c":"34.8","E":363,"D":-0.34},{"c":"34.8","E":382,"D":-0.43},{"c":"34.8","E":400,"D":-0.46},{"c":"34.8","E":420,"D":-0.46},{"c":"34.8","E":440,"D":-0.42},{"c":"34.8","E":458,"D":-0.36},{"c":"34.8","E":480,"D":-0.28},{"c":"34.8","E":500,"D":-0.22},{"c":"34.8","E":550,"D":-0.1},{"c":"34.8","E":600,"D":0},{"c":"34.8","E":650,"D":0.12},{"c":"34.8","E":700,"D":0.27},
{"c":"50.0","E":-400,"D":9.6},{"c":"50.0","E":-396,"D":8.4},{"c":"50.0","E":-392,"D":7.1},{"c":"50.0","E":-388,"D":6.2},{"c":"50.0","E":-382,"D":5.2},{"c":"50.0","E":-377,"D":4.55},{"c":"50.0","E":-366,"D":3.5},{"c":"50.0","E":-350,"D":2.45},{"c":"50.0","E":-335,"D":1.9},{"c":"50.0","E":-320,"D":1.45},{"c":"50.0","E":-297,"D":1.07},{"c":"50.0","E":-280,"D":0.88},{"c":"50.0","E":-259,"D":0.74},{"c":"50.0","E":-230,"D":0.6},{"c":"50.0","E":-205,"D":0.53},{"c":"50.0","E":-160,"D":0.44},{"c":"50.0","E":-129,"D":0.39},{"c":"50.0","E":-80,"D":0.34},{"c":"50.0","E":-40,"D":0.31},{"c":"50.0","E":0,"D":0.29},{"c":"50.0","E":50,"D":0.28},{"c":"50.0","E":100,"D":0.29},{"c":"50.0","E":130,"D":0.3},{"c":"50.0","E":160,"D":0.36},{"c":"50.0","E":192,"D":0.46},{"c":"50.0","E":220,"D":0.53},{"c":"50.0","E":245,"D":0.58},{"c":"50.0","E":268,"D":0.54},{"c":"50.0","E":290,"D":0.41},{"c":"50.0","E":310,"D":0.25},{"c":"50.0","E":329,"D":0.1},{"c":"50.0","E":348,"D":-0.05},{"c":"50.0","E":367,"D":-0.2},{"c":"50.0","E":386,"D":-0.3},{"c":"50.0","E":405,"D":-0.36},{"c":"50.0","E":425,"D":-0.36},{"c":"50.0","E":443,"D":-0.34},{"c":"50.0","E":465,"D":-0.3},{"c":"50.0","E":485,"D":-0.25},{"c":"50.0","E":500,"D":-0.22},{"c":"50.0","E":550,"D":-0.1},{"c":"50.0","E":600,"D":0},{"c":"50.0","E":650,"D":0.1},{"c":"50.0","E":700,"D":0.25},
{"c":"63.9","E":-400,"D":9},{"c":"63.9","E":-397,"D":8},{"c":"63.9","E":-393,"D":6.9},{"c":"63.9","E":-389,"D":6},{"c":"63.9","E":-383,"D":5},{"c":"63.9","E":-377,"D":4.4},{"c":"63.9","E":-366,"D":3.4},{"c":"63.9","E":-350,"D":2.35},{"c":"63.9","E":-335,"D":1.8},{"c":"63.9","E":-320,"D":1.38},{"c":"63.9","E":-297,"D":1.02},{"c":"63.9","E":-280,"D":0.85},{"c":"63.9","E":-259,"D":0.72},{"c":"63.9","E":-230,"D":0.58},{"c":"63.9","E":-205,"D":0.5},{"c":"63.9","E":-160,"D":0.42},{"c":"63.9","E":-129,"D":0.38},{"c":"63.9","E":-80,"D":0.33},{"c":"63.9","E":-40,"D":0.3},{"c":"63.9","E":0,"D":0.28},{"c":"63.9","E":50,"D":0.28},{"c":"63.9","E":100,"D":0.29},{"c":"63.9","E":150,"D":0.31},{"c":"63.9","E":192,"D":0.36},{"c":"63.9","E":230,"D":0.39},{"c":"63.9","E":253,"D":0.41},{"c":"63.9","E":283,"D":0.38},{"c":"63.9","E":305,"D":0.3},{"c":"63.9","E":329,"D":0.12},{"c":"63.9","E":352,"D":-0.02},{"c":"63.9","E":375,"D":-0.15},{"c":"63.9","E":398,"D":-0.22},{"c":"63.9","E":420,"D":-0.26},{"c":"63.9","E":445,"D":-0.28},{"c":"63.9","E":466,"D":-0.27},{"c":"63.9","E":485,"D":-0.25},{"c":"63.9","E":500,"D":-0.24},{"c":"63.9","E":550,"D":-0.15},{"c":"63.9","E":600,"D":-0.05},{"c":"63.9","E":650,"D":0.05},{"c":"63.9","E":700,"D":0.18}
]
},
"resolve": {"scale": {"color": "independent"}, "legend": {"color": "independent"}},
"hconcat": [
{
  "width": 499, "height": 486,
  "title": {"text": "(a)", "orient": "bottom", "font": "Lato", "fontSize": 26, "fontWeight": "normal", "color": "#000", "offset": 14},
  "layer": [
    {
      "data": {"name": "cv"},
      "mark": {"type": "line", "interpolate": "monotone", "strokeWidth": 1.8, "clip": true},
      "encoding": {
        "x": {"field": "E", "type": "quantitative", "scale": {"domain": [-400, 700], "nice": false, "zero": false},
              "axis": {"values": [-400,-300,-200,-100,0,100,200,300,400,500,600,700], "labelExpr": "'' + datum.value", "title": "Potential [mV vs Ag/AgCl]", "labelPadding": 14}},
        "y": {"field": "I", "type": "quantitative", "scale": {"domain": [-25, 20], "nice": false, "zero": false},
              "axis": {"values": [-25,-20,-15,-10,-5,0,5,10,15,20], "labelExpr": "'' + datum.value", "title": "Current [μA]"}},
        "color": {"field": "c", "type": "nominal",
                  "scale": {"domain": ["0","18.3","34.8","50.0","63.9"], "range": ["#ff0000","#0000ff","#00ee00","#ff00ff","#f5a020"]},
                  "legend": {"orient": "none", "legendX": 36, "legendY": 33, "title": null, "labelExpr": "'CACDs ' + datum.label + ' μg/ml'"}},
        "detail": {"field": "b"}
      }
    },
    {
      "data": {"values": [{"E": 227, "y1": -19.1, "y2": 11.1}]},
      "mark": {"type": "rule", "strokeDash": [8, 5], "strokeWidth": 2, "color": "#262626"},
      "encoding": {
        "x": {"field": "E", "type": "quantitative", "scale": {"domain": [-400, 700], "nice": false, "zero": false},
              "axis": {"orient": "top", "values": [-400,-300,-200,-100,0,100,200,300,400,500,600,700], "labels": false, "title": null}},
        "y": {"field": "y1", "type": "quantitative", "scale": {"domain": [-25, 20], "nice": false, "zero": false},
              "axis": {"orient": "right", "values": [-25,-20,-15,-10,-5,0,5,10,15,20], "labels": false, "title": null}},
        "y2": {"field": "y2"}
      }
    },
    {
      "data": {"values": [{"E": 566, "I": 17.47, "t": "Increasing\namounts of\nCACDs"}]},
      "mark": {"type": "text", "align": "right", "baseline": "middle", "fontSize": 19, "lineBreak": "\n", "lineHeight": 23, "color": "#1a1a1a"},
      "encoding": {"x": {"field": "E", "type": "quantitative", "axis": null}, "y": {"field": "I", "type": "quantitative", "axis": null}, "text": {"field": "t"}}
    },
    {
      "data": {"values": [{"E": 315, "I": 17.0, "E2": 371, "I2": 11.25}]},
      "mark": {"type": "rule", "strokeWidth": 1.5, "color": "#000"},
      "encoding": {"x": {"field": "E", "type": "quantitative", "axis": null}, "y": {"field": "I", "type": "quantitative", "axis": null}, "x2": {"field": "E2"}, "y2": {"field": "I2"}}
    },
    {
      "data": {"values": [{"E": 371, "I": 11.25}]},
      "mark": {"type": "point", "shape": "triangle-down", "filled": true, "size": 110, "angle": 338, "color": "#000", "opacity": 1},
      "encoding": {"x": {"field": "E", "type": "quantitative", "axis": null}, "y": {"field": "I", "type": "quantitative", "axis": null}}
    },
    {
      "data": {"values": [{"E": 267, "I": -18.7, "t": "E"}, {"E": 343, "I": -18.7, "t": "≈ 250 mV"}]},
      "mark": {"type": "text", "align": "left", "baseline": "middle", "fontSize": 19.5, "fontWeight": "bold", "color": "#000"},
      "encoding": {"x": {"field": "E", "type": "quantitative", "axis": null}, "y": {"field": "I", "type": "quantitative", "axis": null}, "text": {"field": "t"}}
    },
    {
      "data": {"values": [{"E": 296, "I": -19.5, "t": "ox"}]},
      "mark": {"type": "text", "align": "left", "baseline": "middle", "fontSize": 15, "fontWeight": "bold", "color": "#000"},
      "encoding": {"x": {"field": "E", "type": "quantitative", "axis": null}, "y": {"field": "I", "type": "quantitative", "axis": null}, "text": {"field": "t"}}
    }
  ],
  "resolve": {"axis": {"x": "independent", "y": "independent"}}
},
{
  "width": 479, "height": 491,
  "title": {"text": "(b)", "orient": "bottom", "font": "Lato", "fontSize": 26, "fontWeight": "normal", "color": "#000", "offset": 8},
  "layer": [
    {
      "data": {"name": "deriv"},
      "mark": {"type": "line", "interpolate": "monotone", "strokeWidth": 1.8, "clip": true},
      "encoding": {
        "x": {"field": "E", "type": "quantitative", "scale": {"domain": [-400, 700], "nice": false, "zero": false},
              "axis": {"values": [-400,-300,-200,-100,0,100,200,300,400,500,600,700], "labelExpr": "'' + datum.value", "title": "Potential [mV vs Ag/AgCl]", "labelPadding": 16}},
        "y": {"field": "D", "type": "quantitative", "scale": {"domain": [-5, 10], "nice": false, "zero": false},
              "axis": {"values": [-5,-4,-3,-2,-1,0,1,2,3,4,5,6,7,8,9,10], "labelExpr": "'' + datum.value", "title": "First derivative [μA/mV]", "titlePadding": 6}},
        "color": {"field": "c", "type": "nominal",
                  "scale": {"domain": ["0","18.3","34.8","50.0","63.9"], "range": ["#ff0000","#0000ff","#00ee00","#ff00ff","#f5a020"]},
                  "legend": {"orient": "none", "legendX": 40, "legendY": 25, "title": null, "labelExpr": "'CACDs ' + datum.label + ' μg/ml'"}}
      }
    },
    {
      "data": {"values": [{"E": 204, "y1": -3.0, "y2": 6.5}, {"E": 255, "y1": -4.0, "y2": 4.46}]},
      "mark": {"type": "rule", "strokeDash": [8, 5], "strokeWidth": 2, "color": "#262626"},
      "encoding": {
        "x": {"field": "E", "type": "quantitative", "scale": {"domain": [-400, 700], "nice": false, "zero": false},
              "axis": {"orient": "top", "values": [-400,-300,-200,-100,0,100,200,300,400,500,600,700], "labels": false, "title": null}},
        "y": {"field": "y1", "type": "quantitative", "scale": {"domain": [-5, 10], "nice": false, "zero": false},
              "axis": {"orient": "right", "values": [-5,-4,-3,-2,-1,0,1,2,3,4,5,6,7,8,9,10], "labels": false, "title": null}},
        "y2": {"field": "y2"}
      }
    },
    {
      "data": {"values": [{"E": 578, "D": 4.16, "t": "Increasing\namounts of\nCACDs"}]},
      "mark": {"type": "text", "align": "right", "baseline": "middle", "fontSize": 19, "lineBreak": "\n", "lineHeight": 23, "color": "#1a1a1a"},
      "encoding": {
        "x": {"field": "E", "type": "quantitative", "axis": {"orient": "bottom", "values": [-380,-360,-340,-320,-280,-260,-240,-220,-180,-160,-140,-120,-80,-60,-40,-20,20,40,60,80,120,140,160,180,220,240,260,280,320,340,360,380,420,440,460,480,520,540,560,580,620,640,660,680], "labels": false, "title": null, "tickSize": -3}},
        "y": {"field": "D", "type": "quantitative", "axis": null}, "text": {"field": "t"}}
    },
    {
      "data": {"values": [{"E": 310, "D": 4.31, "E2": 356.5, "D2": 1.58}]},
      "mark": {"type": "rule", "strokeWidth": 1.5, "color": "#000"},
      "encoding": {
        "x": {"field": "E", "type": "quantitative", "axis": {"orient": "top", "values": [-380,-360,-340,-320,-280,-260,-240,-220,-180,-160,-140,-120,-80,-60,-40,-20,20,40,60,80,120,140,160,180,220,240,260,280,320,340,360,380,420,440,460,480,520,540,560,580,620,640,660,680], "labels": false, "title": null, "tickSize": -3}},
        "y": {"field": "D", "type": "quantitative", "axis": null}, "x2": {"field": "E2"}, "y2": {"field": "D2"}}
    },
    {
      "data": {"values": [{"E": 356.5, "D": 1.58}]},
      "mark": {"type": "point", "shape": "triangle-down", "filled": true, "size": 110, "angle": 347, "color": "#000", "opacity": 1},
      "encoding": {"x": {"field": "E", "type": "quantitative", "axis": null}, "y": {"field": "D", "type": "quantitative", "axis": null}}
    },
    {
      "data": {"values": [{"E": -310, "D": -2.85, "t": "E"}, {"E": -26, "D": -2.85, "t": "≈ 220 mV"}, {"E": 272, "D": -3.87, "t": "E"}, {"E": 350, "D": -3.87, "t": "≈ 250 mV"}]},
      "mark": {"type": "text", "align": "left", "baseline": "middle", "fontSize": 19.5, "fontWeight": "bold", "color": "#000"},
      "encoding": {"x": {"field": "E", "type": "quantitative", "axis": null}, "y": {"field": "D", "type": "quantitative", "axis": null}, "text": {"field": "t"}}
    },
    {
      "data": {"values": [{"E": -280, "D": -3.15, "t": "inflection point"}, {"E": 302, "D": -4.15, "t": "ox"}]},
      "mark": {"type": "text", "align": "left", "baseline": "middle", "fontSize": 15, "fontWeight": "bold", "color": "#000"},
      "encoding": {"x": {"field": "E", "type": "quantitative", "axis": null}, "y": {"field": "D", "type": "quantitative", "axis": null}, "text": {"field": "t"}}
    }
  ],
  "resolve": {"axis": {"x": "independent", "y": "independent"}}
}
]
}
